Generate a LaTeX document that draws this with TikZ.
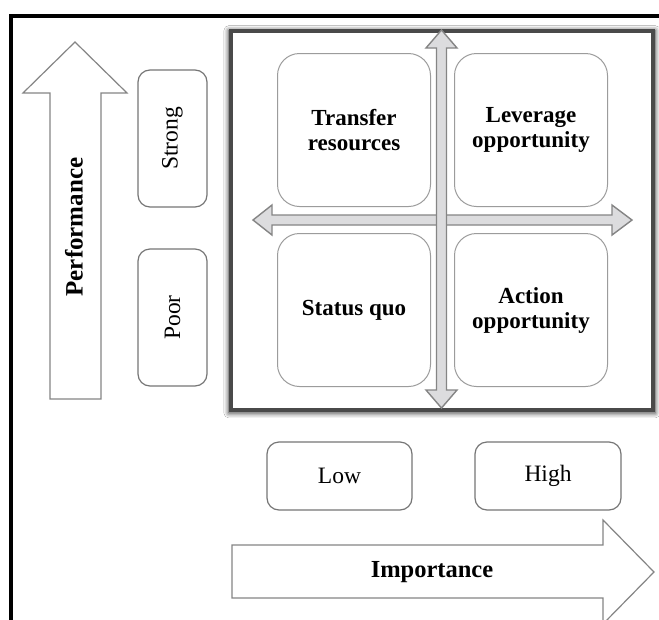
\documentclass[tikz,border=0pt]{standalone}
\usepackage{fontspec}
\setmainfont{Liberation Serif}
\usetikzlibrary{shadows.blur}
\definecolor{arrowfill}{HTML}{DCDCDE}
\definecolor{arrowline}{HTML}{858585}
\definecolor{boxline}{HTML}{9C9C9C}
\definecolor{tagline}{HTML}{767676}
\definecolor{frameline}{HTML}{4A4A4A}
\tikzset{
  quadbox/.style={draw=boxline, line width=1pt, rounded corners=22pt,
    minimum width=153pt, minimum height=153pt, align=center,
    font=\fontsize{23}{25}\selectfont\bfseries},
  tagbox/.style={draw=tagline, line width=1.2pt, rounded corners=12pt,
    font=\fontsize{23.5}{25}\selectfont},
  bigarrow/.style={draw=arrowline, line width=1.2pt, fill=white, line join=miter},
  crossarrow/.style={draw=arrowline, line width=1.4pt, fill=arrowfill, line join=miter},
  axislabel/.style={font=\fontsize{24.5}{26}\selectfont\bfseries},
}
\begin{document}
\begin{tikzpicture}[x=1pt,y=-1pt]
\useasboundingbox (0,0) rectangle (659,619);
\fill[white] (0,0) rectangle (659,619);

% outer frame, running off the page on the right and bottom
\draw[black, line width=4pt] (10.5,16) rectangle (700,700);

% matrix frame with soft shadow
\draw[frameline, line width=4pt, fill=white,
  blur shadow={shadow xshift=0.5pt, shadow yshift=-1.5pt, shadow blur radius=5pt,
    shadow scale=1.01, shadow opacity=85}]
  (230.5,31) rectangle (652.5,409.5);

% quadrant cells
\node[quadbox] (tl) at (354,130) {Transfer\\resources};
\node[quadbox] (tr) at (531,130) {Leverage\\opportunity};
\node[quadbox] (bl) at (354,310) {Status quo};
\node[quadbox] (br) at (531,310) {Action\\opportunity};

% horizontal double arrow
\draw[crossarrow] (253,220) -- (272,205) -- (272,215) -- (612,215) -- (612,205)
  -- (632,220) -- (612,235) -- (612,225) -- (272,225) -- (272,235) -- cycle;
% vertical double arrow
\draw[crossarrow] (441.5,30) -- (457,48) -- (446.5,48) -- (446.5,390) -- (457,390)
  -- (441.5,408) -- (426,390) -- (436.5,390) -- (436.5,48) -- (426,48) -- cycle;

% performance axis
\draw[bigarrow] (75,42) -- (127,93) -- (101,93) -- (101,399) -- (50,399)
  -- (50,93) -- (23,93) -- cycle;
\node[axislabel, font=\fontsize{25}{26}\selectfont\bfseries, rotate=90] (perf) at (74,227) {Performance};
\node[tagbox, rotate=90, minimum width=137pt, minimum height=69pt] (strong) at (172.5,138.5) {Strong};
\node[tagbox, rotate=90, minimum width=137pt, minimum height=69pt] (poor) at (172.5,317.5) {Poor};

% importance axis
\node[tagbox, minimum width=145pt, minimum height=68pt] (low) at (339.5,476) {Low};
\node[tagbox, minimum width=146pt, minimum height=68pt] (high) at (548,476) {High};
\draw[bigarrow] (232,545) -- (603,545) -- (603,520) -- (654,572) -- (603,624)
  -- (603,598) -- (232,598) -- cycle;
\node[axislabel] (imp) at (432,572) {Importance};
\end{tikzpicture}
\end{document}
